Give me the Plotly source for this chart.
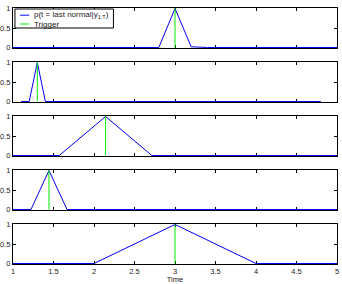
import plotly.graph_objects as go
from plotly.subplots import make_subplots

# Data (five stacked panels)
time_p1 = [1.0, 2.8, 3.0, 3.2, 3.4, 5.0]
prob_p1 = [0, 0, 1, 0.02, 0, 0]
time_p2 = [1.1, 1.2, 1.3, 1.4, 4.8]
prob_p2 = [0, 0, 1, 0, 0]
time_p3 = [1.0, 1.571, 2.143, 2.714, 5.0]
prob_p3 = [0, 0, 1, 0, 0]
time_p4 = [1.0, 1.222, 1.444, 1.667, 5.0]
prob_p4 = [0, 0, 1, 0, 0]
time_p5 = [1.0, 2.0, 3.0, 4.0, 5.0]
prob_p5 = [0, 0, 1, 0, 0]
triggers = [3.0, 1.3, 2.143, 1.444, 3.0]
x_ticks = [1, 1.5, 2, 2.5, 3, 3.5, 4, 4.5, 5]
y_ticks = [0, 0.5, 1]
legend_labels = ["p(t = last normal|y<sub>1:T</sub>)", "Trigger"]

times = [time_p1, time_p2, time_p3, time_p4, time_p5]
probs = [prob_p1, prob_p2, prob_p3, prob_p4, prob_p5]

BLUE = "#0000ee"
GREEN = "#00ee00"
TXT = "#222222"
FONT = "Liberation Sans, Arial, sans-serif"

fig = make_subplots(rows=5, cols=1, shared_xaxes=False, vertical_spacing=14 / 256)

for i in range(5):
    r = i + 1
    fig.add_trace(go.Scatter(x=times[i], y=probs[i], mode="lines",
                             line=dict(color=BLUE, width=1),
                             name=legend_labels[0], showlegend=False), row=r, col=1)
    fig.add_trace(go.Scatter(x=[triggers[i], triggers[i]], y=[0, 1], mode="lines",
                             line=dict(color=GREEN, width=1),
                             name=legend_labels[1], showlegend=False), row=r, col=1)
    fig.update_xaxes(range=[1, 5], tickvals=x_ticks,
                     ticktext=[("%g" % v) for v in x_ticks],
                     showticklabels=(r == 5),
                     ticks="inside", ticklen=3, tickcolor="black",
                     showline=True, mirror="ticks", linecolor="black", linewidth=1,
                     showgrid=False, zeroline=False, layer="below traces",
                     tickfont=dict(size=7.5, color=TXT),
                     automargin=False, row=r, col=1)
    fig.update_yaxes(range=[-0.012, 1.012], tickvals=y_ticks,
                     ticktext=["0", "0.5", "1"],
                     ticks="inside", ticklen=3, tickcolor="black",
                     showline=True, mirror="ticks", linecolor="black", linewidth=1,
                     showgrid=False, zeroline=False, layer="below traces",
                     tickfont=dict(size=7.5, color=TXT),
                     automargin=False, row=r, col=1)

fig.update_xaxes(title=dict(text="Time", font=dict(size=7.5, color=TXT, family=FONT), standoff=0),
                 row=5, col=1)

# Legend box drawn inside the top panel
fig.add_shape(type="rect", xref="x domain", yref="y domain",
              x0=0.006, x1=0.31, y0=0.5, y1=0.975,
              line=dict(color="black", width=1), fillcolor="white", layer="above")
legend_colors = [BLUE, GREEN]
legend_y = [0.82, 0.6]
for lab, col, yy in zip(legend_labels, legend_colors, legend_y):
    fig.add_shape(type="line", xref="x domain", yref="y domain",
                  x0=0.022, x1=0.05, y0=yy, y1=yy,
                  line=dict(color=col, width=1), layer="above")
    fig.add_annotation(xref="x domain", yref="y domain", x=0.058, y=yy,
                       text=lab, showarrow=False, xanchor="left", yanchor="middle",
                       font=dict(size=8, color=TXT, family=FONT))

fig.update_layout(
    width=342, height=284,
    margin=dict(l=13, r=5, t=8, b=20),
    template="none",
    showlegend=False,
    paper_bgcolor="white", plot_bgcolor="white",
    font=dict(family=FONT, size=7.5, color=TXT),
)

fig.write_html("out.html")
